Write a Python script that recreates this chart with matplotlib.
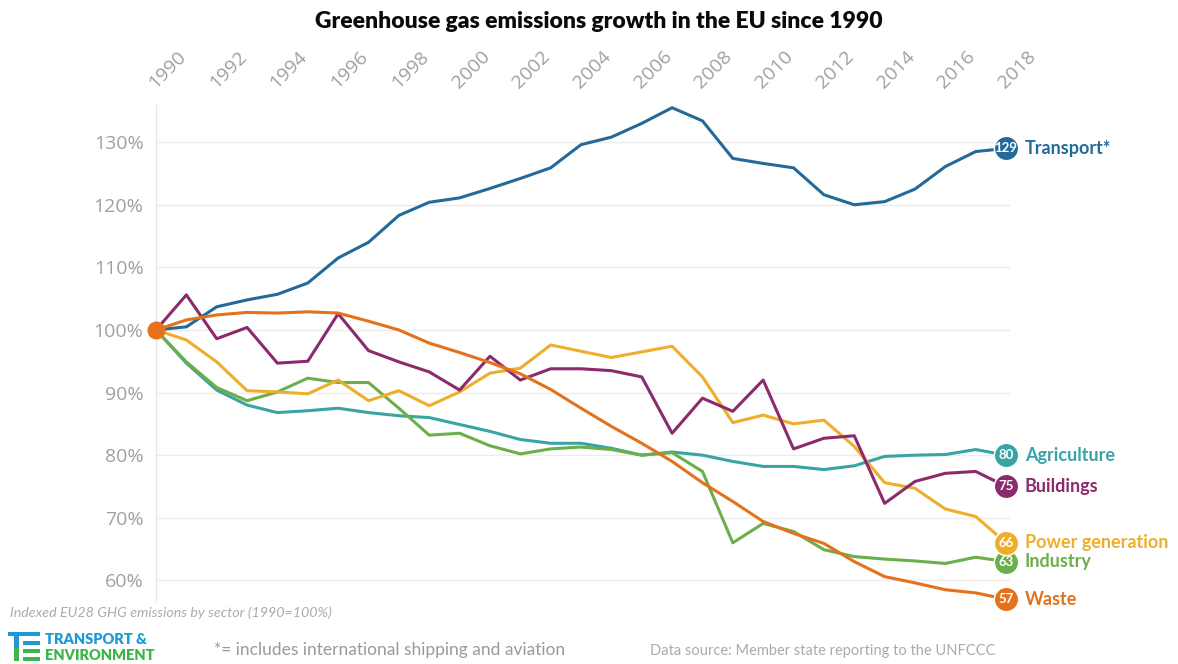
import matplotlib
matplotlib.use("Agg")
import matplotlib.pyplot as plt
import matplotlib.transforms as mtransforms
from matplotlib.patches import Rectangle

# Indexed EU28 GHG emissions by sector, 1990 = 100
years = list(range(1990, 2019))

transport = [100, 100.5, 103.7, 104.8, 105.7, 107.5, 111.5, 114.0, 118.3, 120.4,
             121.1, 122.6, 124.2, 125.9, 129.6, 130.8, 133.0, 135.5, 133.4, 127.4,
             126.6, 125.9, 121.6, 120.0, 120.5, 122.5, 126.1, 128.5, 129]
agriculture = [100, 94.7, 90.4, 88.0, 86.8, 87.1, 87.5, 86.8, 86.3, 86.0,
               84.9, 83.8, 82.5, 81.9, 81.9, 81.1, 80.0, 80.5, 80.0, 79.0,
               78.2, 78.2, 77.7, 78.3, 79.8, 80.0, 80.1, 80.9, 80]
buildings = [100, 105.6, 98.6, 100.4, 94.7, 95.0, 102.6, 96.7, 94.9, 93.3,
             90.4, 95.8, 92.0, 93.8, 93.8, 93.5, 92.5, 83.5, 89.1, 87.0,
             92.0, 81.0, 82.7, 83.1, 72.3, 75.8, 77.1, 77.4, 75]
power = [100, 98.4, 94.9, 90.3, 90.1, 89.8, 92.0, 88.7, 90.3, 87.9,
         90.1, 93.1, 93.9, 97.6, 96.6, 95.6, 96.5, 97.4, 92.5, 85.2,
         86.4, 85.0, 85.6, 81.4, 75.6, 74.7, 71.4, 70.2, 66]
industry = [100, 94.9, 90.8, 88.7, 90.1, 92.3, 91.6, 91.6, 87.5, 83.2,
            83.5, 81.5, 80.2, 81.0, 81.3, 80.9, 80.0, 80.4, 77.4, 66.0,
            69.1, 67.8, 64.9, 63.8, 63.4, 63.1, 62.7, 63.7, 63]
waste = [100, 101.6, 102.4, 102.8, 102.7, 102.9, 102.7, 101.4, 100.0, 97.9,
         96.4, 94.8, 93.0, 90.5, 87.5, 84.6, 81.9, 79.0, 75.6, 72.6,
         69.4, 67.5, 65.9, 63.0, 60.6, 59.6, 58.5, 58.0, 57]

series_names = ["Agriculture", "Industry", "Power generation", "Buildings", "Transport*", "Waste"]
series_values = [agriculture, industry, power, buildings, transport, waste]
series_colors = ["#3aa3a4", "#6aaf4a", "#eeae2c", "#8b2a6c", "#23699a", "#e4711b"]

y_ticks = [60, 70, 80, 90, 100, 110, 120, 130]
x_ticks = list(range(1990, 2019, 2))

W, H = 1178, 664
fig = plt.figure(figsize=(W / 100, H / 100), dpi=100)
fig.patch.set_facecolor("white")


def fx(px):
    return px / W


def fy(py):
    return 1 - py / H


ax = fig.add_axes([fx(156), fy(600.4), fx(1010) - fx(156), fy(104.6) - fy(600.4)])
ax.set_xlim(1990, 2018.13)
ax.set_ylim(56.8, 136)

for name, vals, col in zip(series_names, series_values, series_colors):
    ax.plot(years, vals, color=col, lw=2.2, solid_joinstyle="round", zorder=3)
    last = vals[-1]
    ax.plot([years[-1]], [last], "o", ms=17.5, color=col, mec="white", mew=1.0,
            clip_on=False, zorder=5)
    ax.text(years[-1], last, f"{last:.0f}", color="white", fontsize=9.5,
            fontweight="bold", family="Lato", ha="center", va="center",
            zorder=6, clip_on=False)
    ax.annotate(name, xy=(years[-1], last), xytext=(13.5, 0),
                textcoords="offset points", color=col, fontsize=13,
                fontweight="bold", family="Lato", ha="left", va="center",
                annotation_clip=False)

# common starting point
ax.plot([1990], [100], "o", ms=12, color="#e4711b", clip_on=False, zorder=7)

# axes styling
ax.set_yticks(y_ticks)
ax.set_yticklabels([f"{v}%" for v in y_ticks])
ax.set_xticks(x_ticks)
ax.grid(axis="y", color="#ececec", lw=1.0, zorder=0)
for side in ["top", "right", "bottom"]:
    ax.spines[side].set_visible(False)
ax.spines["left"].set_color("#e6e6e6")
ax.spines["left"].set_linewidth(1.0)
ax.tick_params(axis="y", length=0, pad=9, labelsize=14, labelcolor="#a0a0a0")
ax.tick_params(axis="x", length=0, top=True, bottom=False, labeltop=True,
               labelbottom=False, pad=11, labelsize=14, labelcolor="#a0a0a0")
for lab in ax.get_yticklabels():
    lab.set_family("Open Sans")
shift = mtransforms.ScaledTranslation(-1 / 100, 0, fig.dpi_scale_trans)
for lab in ax.get_xticklabels():
    lab.set_family("Open Sans")
    lab.set_rotation(45)
    lab.set_ha("left")
    lab.set_va("baseline")
    lab.set_rotation_mode("anchor")
    lab.set_transform(lab.get_transform() + shift)

# title
fig.text(fx(599), fy(21), "Greenhouse gas emissions growth in the EU since 1990",
         ha="center", va="center", fontsize=16.5, fontweight="heavy",
         family="Lato", color="#0a0a0a")

# footer notes
fig.text(fx(10), fy(613), "Indexed EU28 GHG emissions by sector (1990=100%)",
         ha="left", va="center", fontsize=10.3, style="italic", family="Lato",
         color="#ababab")
fig.text(fx(214), fy(650), "*= includes international shipping and aviation",
         ha="left", va="center", fontsize=12.5, family="Lato", color="#9a9a9a")
fig.text(fx(650), fy(651), "Data source: Member state reporting to the UNFCCC",
         ha="left", va="center", fontsize=10.5, family="Lato", color="#ababab")

# organisation logo
blue, green = "#1b9ad6", "#3db54a"
logo_bars = [
    (8, 632, 32, 4, blue),
    (14, 636, 4.5, 12, blue),
    (14, 648, 4.5, 13, green),
    (23, 641, 17, 4, blue),
    (23, 649, 17, 4, green),
    (23, 657, 17, 4, green),
]
for x0, y0, w, h, c in logo_bars:
    fig.add_artist(Rectangle((fx(x0), fy(y0 + h)), w / W, h / H,
                             transform=fig.transFigure, color=c, lw=0))
fig.text(fx(45), fy(640), "TRANSPORT &", ha="left", va="center", fontsize=10.5,
         fontweight="heavy", family="Lato", color=blue)
fig.text(fx(45), fy(655), "ENVIRONMENT", ha="left", va="center", fontsize=10.5,
         fontweight="heavy", family="Lato", color=green)

fig.savefig("out.png", dpi=100, facecolor="white")
